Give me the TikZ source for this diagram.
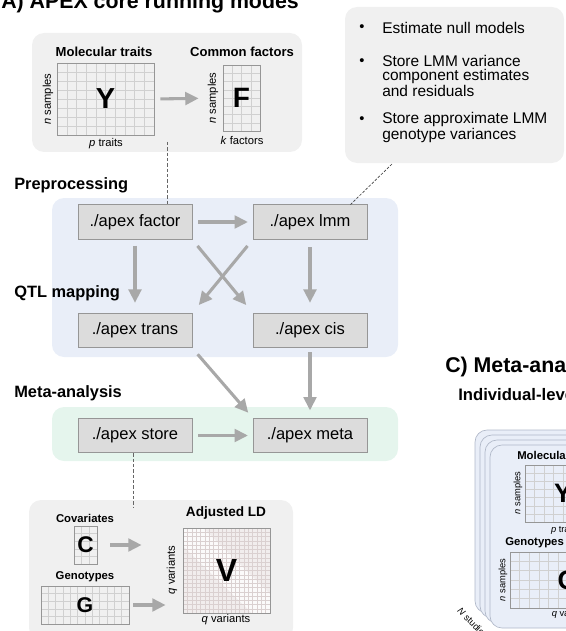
\documentclass[tikz,border=0pt]{standalone}
\usepackage{fontspec}
\setmainfont{Liberation Sans}
\usetikzlibrary{arrows.meta,positioning}

\definecolor{panelgray}{RGB}{240,240,240}
\definecolor{qtlblue}{RGB}{233,238,248}
\definecolor{metagreen}{RGB}{229,245,237}
\definecolor{boxgray}{RGB}{220,220,220}
\definecolor{boxline}{RGB}{150,150,150}
\definecolor{flowgray}{RGB}{168,168,168}
\definecolor{gridgray}{RGB}{208,208,208}
\definecolor{ldfill}{RGB}{241,237,237}
\definecolor{ldgrid}{RGB}{218,208,208}
\definecolor{stackline}{RGB}{176,184,200}

\tikzset{
  panel/.style={fill=panelgray, rounded corners=9pt},
  cmdbox/.style={draw=boxline, fill=boxgray, line width=0.6pt, minimum width=85.5pt,
    minimum height=26pt, inner sep=0pt, font=\fontsize{12.4}{14}\selectfont},
  flow/.style={draw=flowgray, line width=2.3pt, -{Triangle[length=10pt,width=9.5pt]}},
  tap/.style={draw=black!60, line width=0.6pt, dash pattern=on 2.5pt off 1.5pt},
  stage/.style={anchor=west, inner sep=0pt, font=\fontsize{12.3}{14}\selectfont\bfseries},
  heading/.style={inner sep=0pt, font=\fontsize{9.8}{12}\selectfont\bfseries},
  axis/.style={inner sep=0pt, font=\fontsize{8.4}{10}\selectfont},
  tiny/.style={inner sep=0pt, font=\fontsize{7}{8}\selectfont},
  gridline/.style={draw=gridgray, line width=0.3pt},
  matbox/.style={draw=boxline, line width=0.6pt, inner sep=0pt},
  note/.style={anchor=west, inner sep=0pt, align=left, font=\fontsize{11.6}{10.8}\selectfont},
  layer/.style={draw=stackline, fill=qtlblue, line width=0.5pt, rounded corners=9pt}
}

% matrix with cell grid: name, left, top, width, height, nx, ny, letter, letter size
\newcommand{\datamat}[9]{%
  \foreach \i in {1,...,#6} \draw[gridline] ({#2+\i*#4/#6},#3) -- ++(0,#5);
  \foreach \j in {1,...,#7} \draw[gridline] (#2,{#3+\j*#5/#7}) -- ++(#4,0);
  \node[matbox, minimum width=#4*0.75pt, minimum height=#5*0.75pt,
    font=\fontsize{#9}{#9}\selectfont\bfseries] (#1) at ({#2+#4/2},{#3+#5/2}) {#8};}

\begin{document}
\begin{tikzpicture}[x=0.75pt,y=0.75pt,yscale=-1,xscale=1]
\useasboundingbox (0,0) rectangle (566,631);
\clip (0,0) rectangle (566,631);

% Titles
\node[anchor=base west, inner sep=0pt, font=\fontsize{16}{18}\selectfont\bfseries] (titleA) at (1,9) {A) APEX core running modes};
\node[anchor=base west, inner sep=0pt, font=\fontsize{16}{18}\selectfont\bfseries] (titleC) at (445,372) {C) Meta-analysis};
\node[anchor=west, inner sep=0pt, font=\fontsize{12.5}{14}\selectfont\bfseries] (indiv) at (458,395) {Individual-level};

% Backgrounds
\path[panel] (32,33) rectangle (302,152);
\path[panel] (345,7) rectangle (564,163);
\path[fill=qtlblue, rounded corners=9pt] (52,198) rectangle (398,357);
\path[fill=metagreen, rounded corners=9pt] (52,407) rectangle (398,461);
\path[panel] (29,500) rectangle (293,640);

% Input matrices
\node[heading] (ylabel) at (104,52) {Molecular traits};
\datamat{ymat}{57}{63}{97}{72}{10}{8}{Y}{21.7}
\node[axis, rotate=90] (yrows) at (48,99) {\textit{n} samples};
\node[axis] (ycols) at (106,144) {\textit{p} traits};

\node[heading] (flabel) at (242,52) {Common factors};
\datamat{fmat}{223}{65}{37}{66}{4}{8}{F}{21}
\node[axis, rotate=90] (frows) at (213,98) {\textit{n} samples};
\node[axis] (fcols) at (242,140) {\textit{k} factors};

\draw[flow, shorten <=4.5pt, shorten >=18pt] (ymat.east) -- (fmat.west);

% Notes
\node[inner sep=0pt, font=\fontsize{11}{12}\selectfont] (dot1) at (362,28.5) {\textbullet};
\node[inner sep=0pt, font=\fontsize{11}{12}\selectfont] (dot2) at (362,62.5) {\textbullet};
\node[inner sep=0pt, font=\fontsize{11}{12}\selectfont] (dot3) at (362,120.5) {\textbullet};
\node[note] (note1) at (382,28) {Estimate null models};
\node[note] (note2) at (382,76) {Store LMM variance\\component estimates\\and residuals};
\node[note] (note3) at (382,127.5) {Store approximate LMM\\genotype variances};

% Stages
\node[stage] (prep) at (14,185) {Preprocessing};
\node[stage] (qtl) at (14,293) {QTL mapping};
\node[stage] (metalab) at (14,393) {Meta-analysis};

\node[cmdbox] (factor) at (135,222) {./apex factor};
\node[cmdbox] (lmm) at (310,222) {./apex lmm};
\node[cmdbox] (trans) at (135,330.5) {./apex trans};
\node[cmdbox] (cis) at (310,330.5) {./apex cis};
\node[cmdbox] (store) at (135,435.5) {./apex store};
\node[cmdbox] (meta) at (310,435.5) {./apex meta};

\draw[flow, shorten <=4.5pt, shorten >=3.5pt] (factor) -- (lmm);
\draw[flow, shorten <=4.5pt, shorten >=7.5pt] (factor) -- (trans);
\draw[flow, shorten <=5.5pt, shorten >=7.5pt] (lmm) -- (cis);
\draw[flow, shorten <=6pt, shorten >=7.5pt] (factor.south east) -- (cis.north west);
\draw[flow, shorten <=6pt, shorten >=7.5pt] (lmm.south west) -- (trans.north east);
\draw[flow, shorten <=6pt, shorten >=5pt] (trans.south east) -- (meta.north west);
\draw[flow, shorten <=3pt, shorten >=5.5pt] (cis) -- (meta);
\draw[flow, shorten <=4.5pt, shorten >=3.5pt] (store) -- (meta);

% Dashed links
\coordinate (ytap) at (167,142);
\coordinate (notetap) at (392,164);
\coordinate (lmmtap) at (350,205);
\coordinate (ldtap) at (133,507);
\draw[tap] (ytap) -- (ytap |- factor.north);
\draw[tap, draw=black!75, line width=0.5pt, dash pattern=on 2pt off 1.2pt] (notetap) -- (lmmtap);
\draw[tap] (store.south -| ldtap) -- (ldtap);

% LD inputs
\node[heading, font=\fontsize{8.5}{10}\selectfont\bfseries] (clabel) at (85,518) {Covariates};
\datamat{cmat}{74}{526}{23}{38}{3}{5}{C}{17}
\node[heading, font=\fontsize{8.5}{10}\selectfont\bfseries] (glabel) at (85,577) {Genotypes};
\datamat{gmat}{41}{586}{88}{38}{12}{5}{G}{16}

\node[heading, font=\fontsize{10.2}{12}\selectfont\bfseries] (vlabel) at (226,513) {Adjusted LD};
\fill[ldfill] (183,528) rectangle (270,613);
\fill[white, opacity=0.75] (183,528) -- (203,528) -- (270,594) -- (270,613) -- (252,613) -- (183,546) -- cycle;
\begin{scope}[gridline/.style={draw=ldgrid, line width=0.25pt}]
\datamat{vmat}{183}{528}{87}{85}{20}{20}{V}{24}
\end{scope}
\node[axis, rotate=90] (vrows) at (172,570) {\textit{q} variants};
\node[axis] (vcols) at (226,620) {\textit{q} variants};

\draw[flow, shorten <=9.75pt, shorten >=30.75pt] (cmat.east) -- (cmat.east -| vmat.west);
\draw[flow, shorten <=3pt, shorten >=12.75pt] (gmat.east) -- (gmat.east -| vmat.west);

% Study stack
\draw[layer] (475,430) rectangle (625,613);
\draw[layer] (480,435) rectangle (630,618);
\draw[layer] (485,440) rectangle (635,623);
\draw[layer] (490,445) rectangle (640,628);
\node[tiny, rotate=-45] (nstudies) at (473,623) {\textit{N} studies};

\node[heading, anchor=west, font=\fontsize{8.5}{10}\selectfont\bfseries] (ylabel2) at (517,455) {Molecular traits};
\datamat{ymat2}{525}{465}{76}{57}{8}{7}{Y}{20}
\node[tiny, rotate=90] (yrows2) at (518,493) {\textit{n} samples};
\node[tiny] (ycols2) at (565,530) {\textit{p} traits};

\node[heading, anchor=west, font=\fontsize{8.5}{10}\selectfont\bfseries] (glabel2) at (505,543) {Genotypes};
\datamat{gmat2}{510}{552}{116}{56}{12}{6}{G}{20}
\node[tiny, rotate=90] (grows2) at (503,580) {\textit{n} samples};
\node[tiny] (gcols2) at (572,614) {\textit{q} variants};

\end{tikzpicture}
\end{document}
